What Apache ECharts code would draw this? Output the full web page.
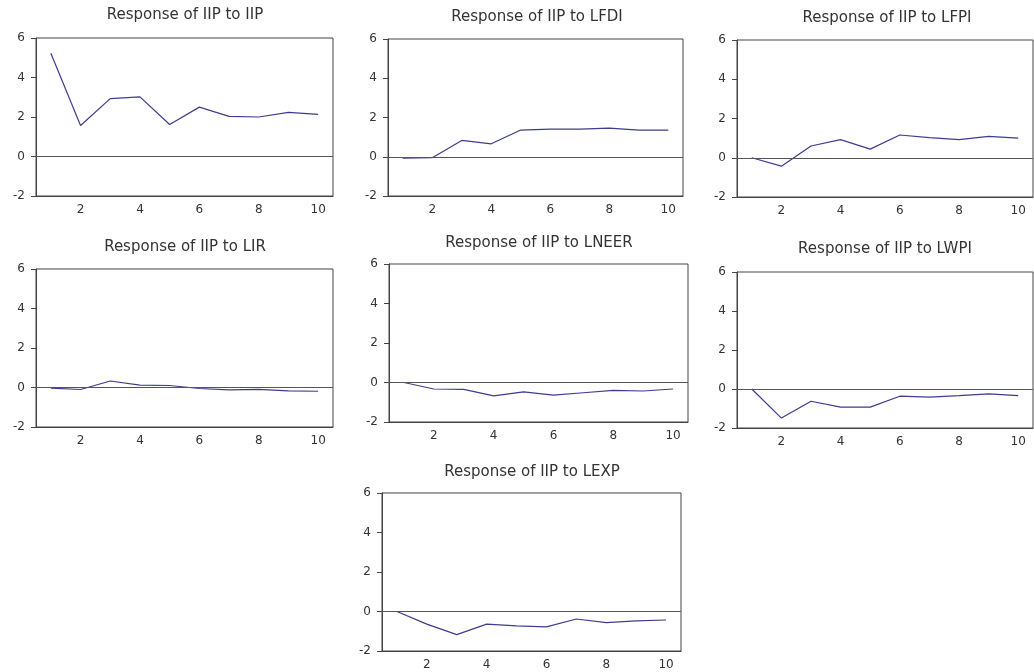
<!DOCTYPE html>
<html><head><meta charset="utf-8">
<script src="https://cdn.jsdelivr.net/npm/echarts@6/dist/echarts.min.js"></script>
<style>html,body{margin:0;padding:0;background:#fff}#c{width:1034px;height:672px}</style>
</head><body><div id="c"></div>
<script>
const periods = ['1','2','3','4','5','6','7','8','9','10'];
const titles = ['Response of IIP to IIP','Response of IIP to LFDI','Response of IIP to LFPI','Response of IIP to LIR','Response of IIP to LNEER','Response of IIP to LWPI','Response of IIP to LEXP'];
const iip   = [5.23, 1.57, 2.93, 3.02, 1.62, 2.50, 2.03, 2.00, 2.23, 2.13];
const lfdi  = [-0.07, -0.05, 0.83, 0.66, 1.36, 1.41, 1.41, 1.46, 1.36, 1.36];
const lfpi  = [0.0, -0.43, 0.60, 0.92, 0.44, 1.16, 1.03, 0.92, 1.09, 1.00];
const lir   = [-0.03, -0.10, 0.33, 0.12, 0.10, -0.05, -0.12, -0.09, -0.17, -0.19];
const lneer = [0.0, -0.33, -0.35, -0.68, -0.47, -0.64, -0.52, -0.40, -0.43, -0.33];
const lwpi  = [0.0, -1.49, -0.63, -0.93, -0.93, -0.37, -0.42, -0.34, -0.25, -0.34];
const lexp  = [0.0, -0.64, -1.17, -0.64, -0.73, -0.78, -0.38, -0.56, -0.47, -0.43];
const yTicks = [-2, 0, 2, 4, 6];

const seriesData = [iip, lfdi, lfpi, lir, lneer, lwpi, lexp];
const layout = [
  {l:36, t:38, w:297, h:158, tx:185, ty:8},
  {l:388, t:39, w:295, h:157, tx:537, ty:10},
  {l:737, t:40, w:296, h:157, tx:887, ty:11},
  {l:36, t:269, w:297, h:158, tx:185, ty:240},
  {l:389, t:264, w:299, h:158, tx:539, ty:236},
  {l:737, t:272, w:296, h:156, tx:885, ty:242},
  {l:382, t:493, w:299, h:158, tx:532, ty:465}
];
const lineColor = '#3d3d8f';
const frame = '#444';
const font = '"DejaVu Sans", Verdana, sans-serif';

const option = {
  animation:false,
  backgroundColor:'#fff',
  title: layout.map((p,i)=>({text:titles[i], left:p.tx, top:p.ty, textAlign:'center', padding:0,
    textStyle:{fontSize:15, fontWeight:'normal', color:'#333', fontFamily:font}})),
  grid: layout.map(p=>({left:p.l, top:p.t, width:p.w, height:p.h, show:true, borderColor:frame, borderWidth:1, backgroundColor:'#fff', containLabel:false})),
  xAxis: layout.map((p,i)=>({type:'category', gridIndex:i, data:periods, boundaryGap:true,
    axisLine:{lineStyle:{color:frame, width:1}, onZero:false},
    axisTick:{inside:true, length:5, interval:0, lineStyle:{color:frame}},
    axisLabel:{interval:(idx)=>idx%2===1, color:'#333', fontSize:12, fontFamily:font, margin:8},
    splitLine:{show:false}})),
  yAxis: layout.map((p,i)=>({type:'value', gridIndex:i, min:-2, max:6, interval:2,
    axisLine:{show:true, lineStyle:{color:frame, width:1}},
    axisTick:{show:true, inside:false, length:5, lineStyle:{color:frame}},
    axisLabel:{color:'#333', fontSize:12, fontFamily:font, margin:11,
      formatter:(v)=> yTicks.includes(v) ? String(v) : ''},
    splitLine:{show:false}})),
  series: seriesData.map((d,i)=>({type:'line', xAxisIndex:i, yAxisIndex:i, data:d, symbol:'none',
    lineStyle:{color:lineColor, width:1.2}, itemStyle:{color:lineColor},
    markLine:{silent:true, symbol:['none','none'], label:{show:false},
      lineStyle:{color:'#555', width:1, type:'solid'}, data:[{yAxis:0}]}}))
};
echarts.init(document.getElementById('c'), null, {renderer:'canvas'}).setOption(option);
</script></body></html>
